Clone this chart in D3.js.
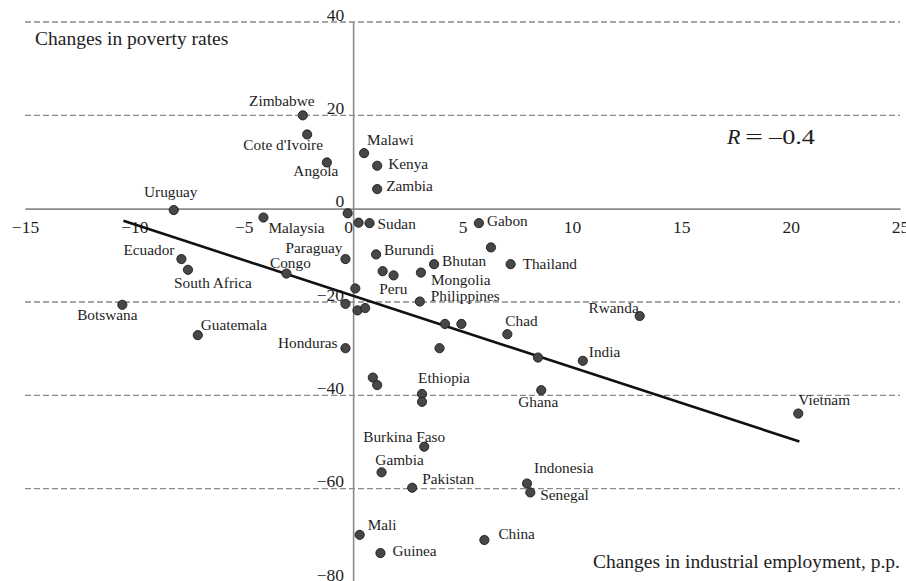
<!DOCTYPE html>
<html>
<head>
<meta charset="utf-8">
<script src="https://cdn.jsdelivr.net/npm/d3@7/dist/d3.min.js"></script>
<style>
  html, body { margin: 0; padding: 0; background: #fff; }
  svg { display: block; font-family: "Liberation Serif", "Times New Roman", serif; }
</style>
</head>
<body>
<svg id="chart" width="906" height="581"></svg>
<script>
// Countries (empty string = unlabelled point)
const countries = [
  "Uruguay", "Zimbabwe", "Cote d'Ivoire", "Angola", "Malawi", "Kenya", "Zambia",
  "", "Malaysia", "", "Sudan", "Gabon", "", "Thailand", "Burundi", "Paraguay",
  "", "", "Mongolia", "Bhutan", "Peru", "Philippines", "", "", "",
  "", "", "Chad", "", "Honduras", "", "", "Ethiopia", "",
  "India", "", "Rwanda", "Ghana", "Vietnam", "Burkina Faso", "Gambia", "Pakistan",
  "Mali", "Guinea", "Indonesia", "Senegal", "China",
  "Ecuador", "South Africa", "Congo", "Botswana", "Guatemala"
];

// Change in industrial employment, p.p.
const industryChange = [
  -8.2, -2.3, -2.1, -1.2, 0.5, 1.1, 1.1,
  -0.25, -4.1, 0.25, 0.75, 5.75, 6.3, 7.2, 1.05, -0.35,
  1.35, 1.85, 3.1, 3.7, 0.1, 3.05, -0.35, 0.2, 0.55,
  4.2, 4.95, 7.05, 3.95, -0.35, 0.9, 1.1, 3.15, 3.15,
  10.5, 8.45, 13.1, 8.6, 20.35, 3.25, 1.3, 2.7,
  0.3, 1.25, 7.95, 8.1, 6.0,
  -7.85, -7.55, -3.05, -10.55, -7.1
];

// Change in poverty rate
const povertyChange = [
  -0.3, 20.0, 15.9, 9.9, 11.9, 9.2, 4.2,
  -1.0, -1.9, -3.0, -3.1, -3.1, -8.3, -11.9, -9.8, -10.8,
  -13.4, -14.3, -13.7, -11.9, -17.1, -19.9, -20.4, -21.8, -21.3,
  -24.7, -24.7, -26.9, -29.9, -29.9, -36.2, -37.8, -39.7, -41.4,
  -32.6, -31.9, -23.0, -38.9, -43.9, -51.0, -56.5, -59.8,
  -69.9, -73.8, -58.9, -60.8, -71.0,
  -10.8, -13.1, -13.9, -20.6, -27.1
];

// Fitted trend line endpoints [x, y]
const trendLine = [[-10.5, -2.6], [20.4, -49.9]];

const xTicks = [-15, -10, -5, 0, 5, 10, 15, 20, 25];
const yTicks = [40, 20, 0, -20, -40, -60, -80];
const gridValues = [40, 20, -20, -40, -60, -80];

const correlationValue = "0.4";

// Label placement relative to each point: [dx, dy, text-anchor]
const labelLayout = {
  "Uruguay": [-3, -13, "middle"],
  "Zimbabwe": [-21, -9, "middle"],
  "Cote d'Ivoire": [-24, 16, "middle"],
  "Angola": [-11, 14, "middle"],
  "Malawi": [3, -8, "start"],
  "Kenya": [11, 3, "start"],
  "Zambia": [9, 2, "start"],
  "Malaysia": [5, 15, "start"],
  "Sudan": [8, 6, "start"],
  "Gabon": [8, 3, "start"],
  "Thailand": [12, 5, "start"],
  "Burundi": [8, 1, "start"],
  "Paraguay": [-3, -6, "end"],
  "Bhutan": [8, 2, "start"],
  "Mongolia": [10, 12, "start"],
  "Philippines": [11, -1, "start"],
  "Peru": [24, 6, "start"],
  "Chad": [-2, -8, "start"],
  "Honduras": [-8, 0, "end"],
  "Ethiopia": [-4, -11, "start"],
  "India": [6, -4, "start"],
  "Rwanda": [-1, -3, "end"],
  "Ghana": [-3, 17, "middle"],
  "Vietnam": [0, -9, "start"],
  "Burkina Faso": [-20, -5, "middle"],
  "Gambia": [18, -7, "middle"],
  "Pakistan": [10, -4, "start"],
  "Mali": [8, -5, "start"],
  "Guinea": [12, 3, "start"],
  "Indonesia": [7, -11, "start"],
  "Senegal": [10, 8, "start"],
  "China": [14, -1, "start"],
  "Ecuador": [-7, -4, "end"],
  "South Africa": [25, 18, "middle"],
  "Congo": [4, -6, "middle"],
  "Botswana": [-15, 15, "middle"],
  "Guatemala": [3, -5, "start"]
};

const svg = d3.select("#chart");
const x = d3.scaleLinear().domain([-15, 25]).range([25, 900]);
const y = d3.scaleLinear().domain([-80, 40]).range([582, 22]);

const serif = "Liberation Serif, Times New Roman, serif";
const textColor = "#1e1e1e";
const axisColor = "#8a8a8a";

// Dashed horizontal gridlines
svg.append("g")
  .selectAll("line")
  .data(gridValues)
  .join("line")
  .attr("x1", x(-15)).attr("x2", x(25))
  .attr("y1", d => y(d)).attr("y2", d => y(d))
  .attr("stroke", axisColor)
  .attr("stroke-width", 1.3)
  .attr("stroke-dasharray", "6,3");

const minusFormat = d => d < 0 ? "\u2212" + Math.abs(d) : String(d);

// Axes crossing at the origin
const xAxis = svg.append("g")
  .attr("transform", `translate(0,${y(0)})`)
  .attr("font-family", serif)
  .call(d3.axisBottom(x).tickValues(xTicks).tickSize(0).tickPadding(12).tickFormat(minusFormat));
xAxis.select(".domain").attr("stroke", axisColor).attr("stroke-width", 1.6);
xAxis.selectAll("text")
  .attr("font-family", serif)
  .attr("font-size", 17.5)
  .attr("fill", textColor)
  .attr("dx", d => d === 0 ? -5 : 0);

const yAxis = svg.append("g")
  .attr("transform", `translate(${x(0)},0)`)
  .attr("font-family", serif)
  .call(d3.axisLeft(y).tickValues(yTicks).tickSize(0).tickPadding(9).tickFormat(minusFormat));
yAxis.select(".domain").attr("stroke", axisColor).attr("stroke-width", 1.6);
yAxis.selectAll("text")
  .attr("font-family", serif)
  .attr("font-size", 17.5)
  .attr("fill", textColor)
  .attr("dy", "-0.1em");

// Trend line
svg.append("line")
  .attr("x1", x(trendLine[0][0])).attr("y1", y(trendLine[0][1]))
  .attr("x2", x(trendLine[1][0])).attr("y2", y(trendLine[1][1]))
  .attr("stroke", "#111")
  .attr("stroke-width", 2.6);

// Points
const points = countries.map((c, i) => ({ name: c, px: industryChange[i], py: povertyChange[i] }));

svg.append("g")
  .selectAll("circle")
  .data(points)
  .join("circle")
  .attr("cx", d => x(d.px))
  .attr("cy", d => y(d.py))
  .attr("r", 4.6)
  .attr("fill", "#474747")
  .attr("stroke", "#1c1c1c")
  .attr("stroke-width", 0.9);

// Country labels
svg.append("g")
  .selectAll("text")
  .data(points.filter(d => d.name && labelLayout[d.name]))
  .join("text")
  .attr("x", d => x(d.px) + labelLayout[d.name][0])
  .attr("y", d => y(d.py) + labelLayout[d.name][1])
  .attr("text-anchor", d => labelLayout[d.name][2])
  .attr("font-family", serif)
  .attr("font-size", 15.3)
  .attr("fill", textColor)
  .text(d => d.name);

// Axis titles
svg.append("text")
  .attr("x", 35).attr("y", 45)
  .attr("font-family", serif)
  .attr("font-size", 19.5)
  .attr("fill", textColor)
  .text("Changes in poverty rates");

svg.append("text")
  .attr("x", 900).attr("y", 568)
  .attr("text-anchor", "end")
  .attr("font-family", serif)
  .attr("font-size", 19.5)
  .attr("fill", textColor)
  .text("Changes in industrial employment, p.p.");

// Correlation coefficient
const rLabel = svg.append("g")
  .attr("font-family", serif)
  .attr("fill", textColor);
rLabel.append("text")
  .attr("x", 727).attr("y", 144)
  .attr("font-size", 22)
  .attr("font-style", "italic")
  .text("R");
rLabel.append("text")
  .attr("x", 745).attr("y", 144)
  .attr("font-size", 22)
  .attr("textLength", 18)
  .attr("lengthAdjust", "spacingAndGlyphs")
  .text("=");
rLabel.append("text")
  .attr("x", 769).attr("y", 144)
  .attr("font-size", 21)
  .attr("textLength", 46)
  .attr("lengthAdjust", "spacingAndGlyphs")
  .text("\u2013" + correlationValue);
</script>
</body>
</html>
